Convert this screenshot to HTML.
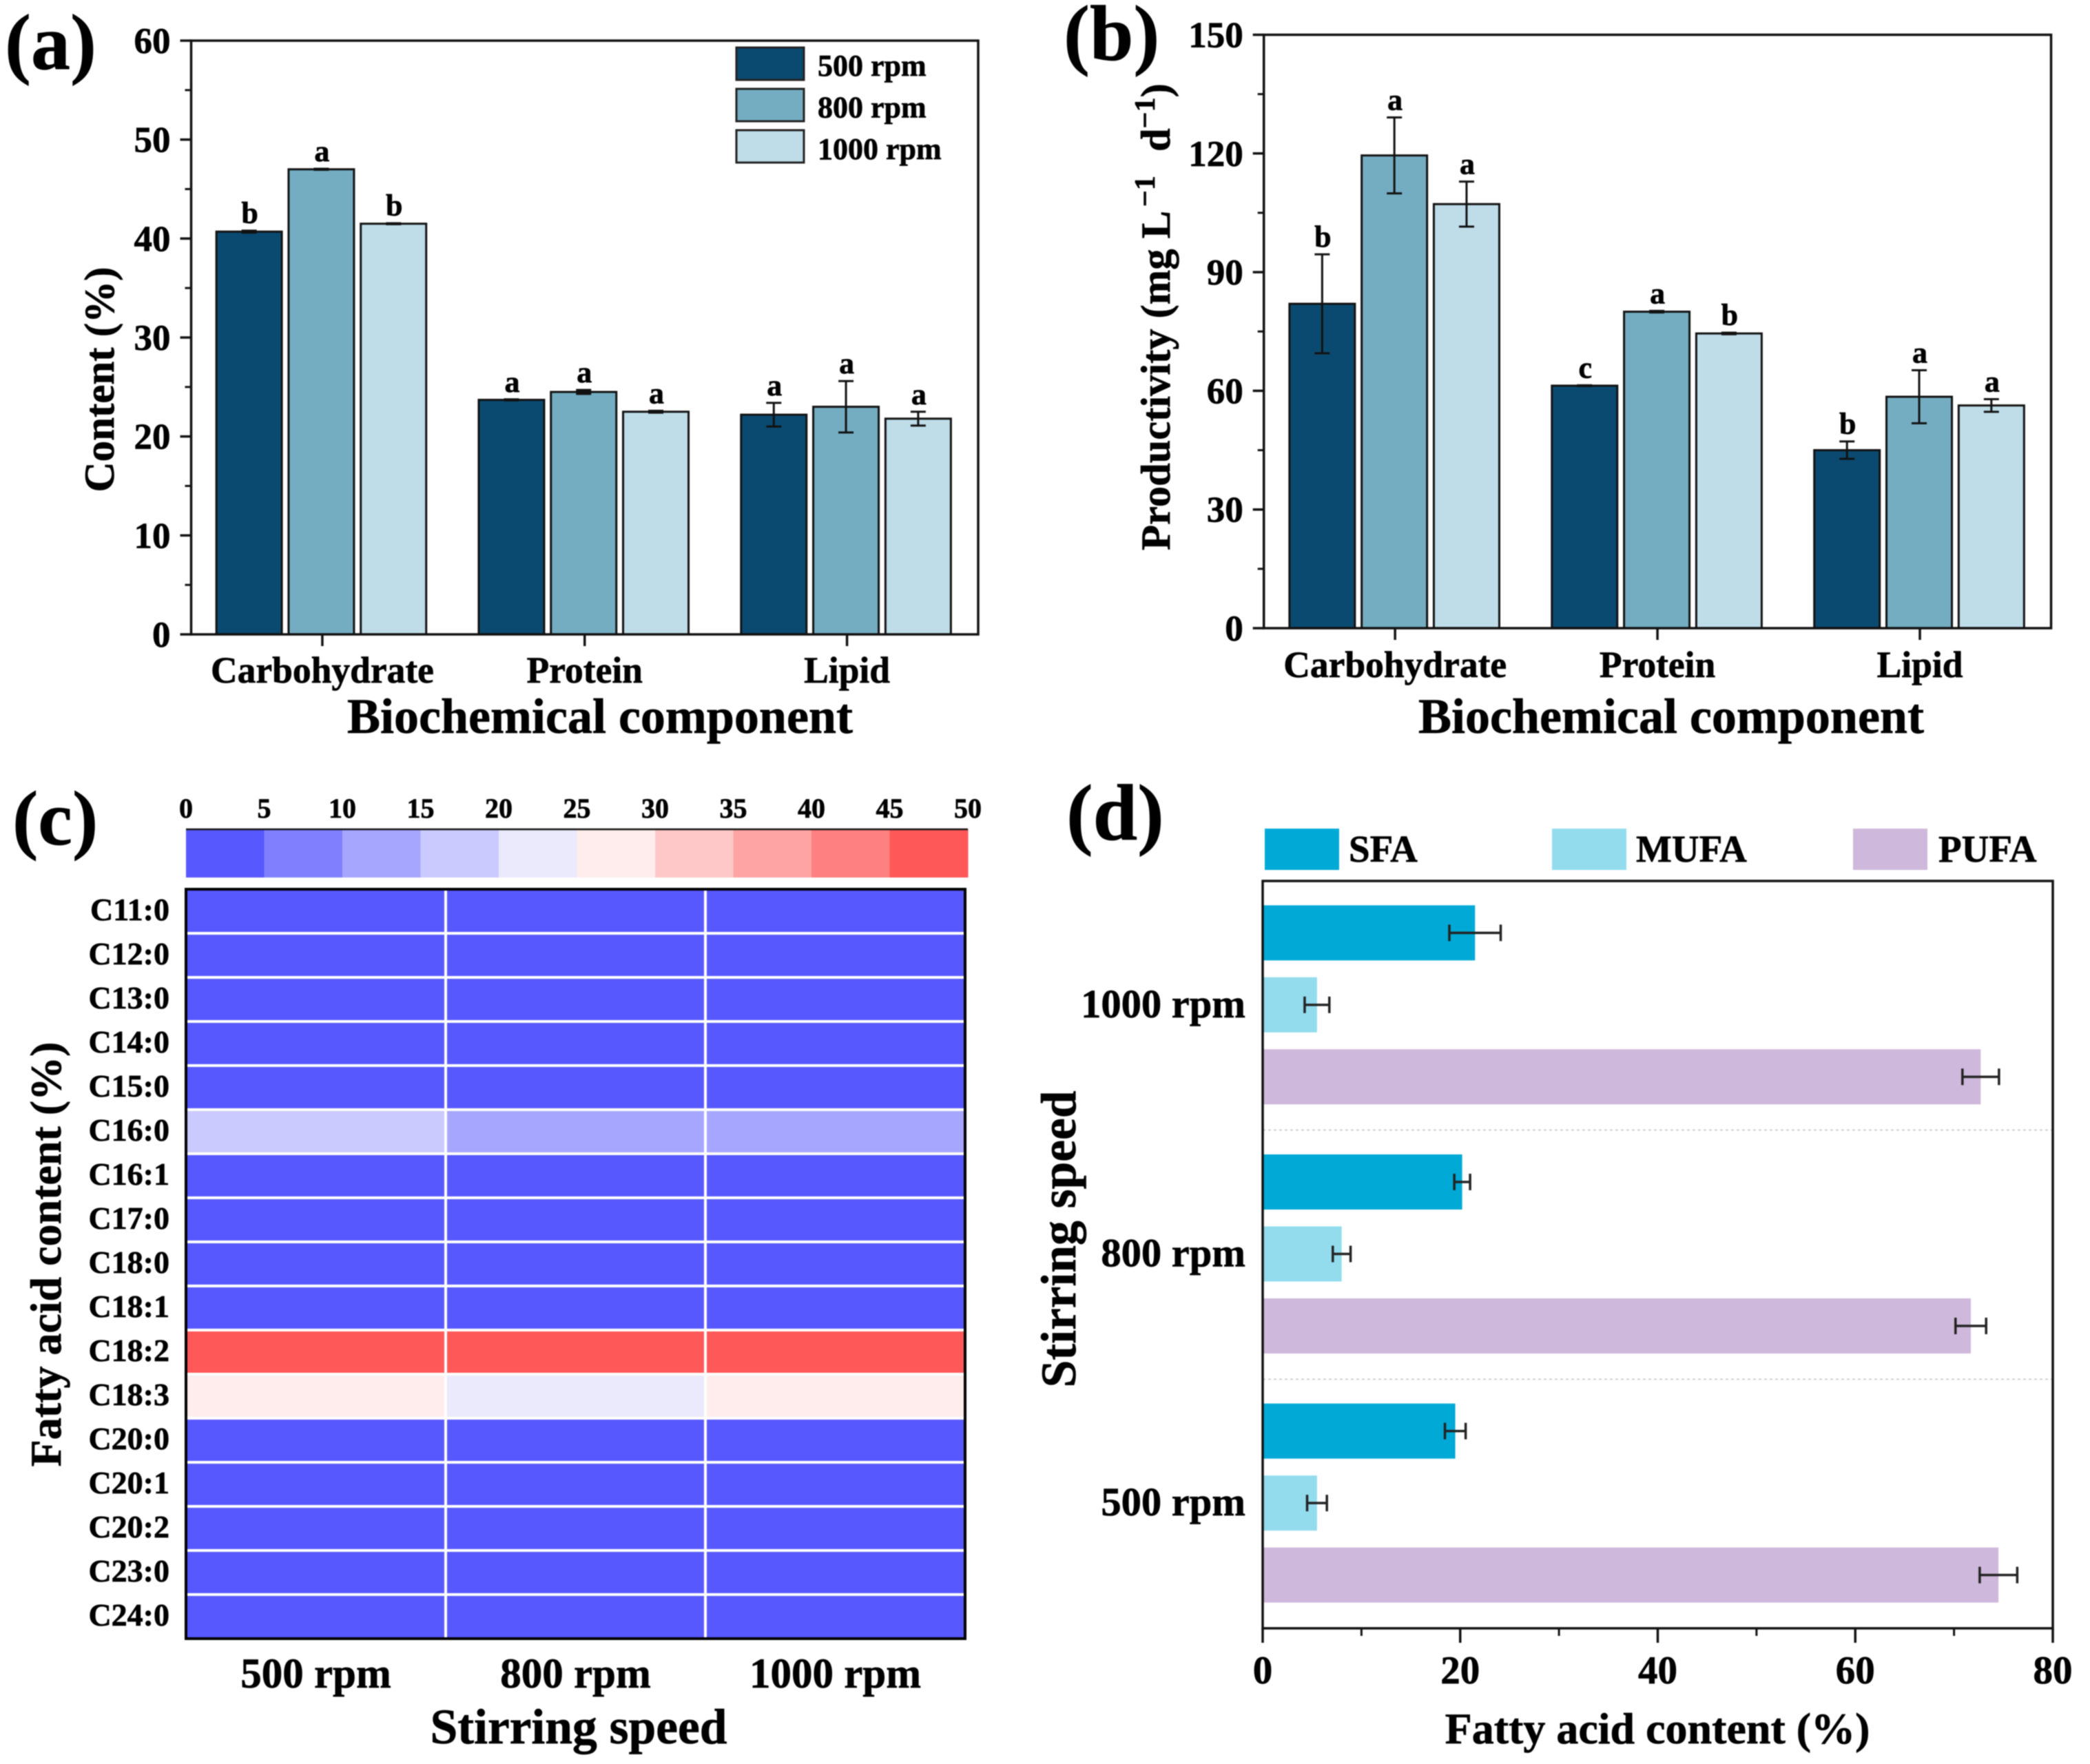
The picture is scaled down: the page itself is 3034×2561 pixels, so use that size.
<!DOCTYPE html>
<html lang="en">
<head>
<meta charset="utf-8">
<title>Biochemical component and fatty acid charts</title>
<style>
html,body{margin:0;padding:0;background:#fff;}
svg{display:block;font-family:"Liberation Serif",serif;font-weight:700;filter:blur(0.7px);}
text{fill:#000;stroke:#000;stroke-width:0.7px;}
</style>
</head>
<body>
<svg id="fig" xmlns="http://www.w3.org/2000/svg" width="3034" height="2561" viewBox="0 0 3034 2561">
  <rect x="0" y="0" width="3034" height="2561" fill="#fff"/>
  <g id="panel-a"></g>
  <g id="panel-b"></g>
  <g id="panel-c"></g>
  <g id="panel-d"></g>

  <text x="7" y="100" font-size="114">(a)</text>
  <text x="1544" y="87" font-size="114">(b)</text>
  <text x="18" y="1226" font-size="112">(c)</text>
  <text x="1548" y="1219" font-size="116">(d)</text>

  <text x="871" y="1064" font-size="72" text-anchor="middle">Biochemical component</text>
  <text transform="translate(165 551) rotate(-90)" font-size="61" text-anchor="middle">Content (%)</text>

  <text x="2426" y="1064" font-size="72" text-anchor="middle">Biochemical component</text>
  <text transform="translate(1698 799) rotate(-90)" font-size="60.5">Productivity (mg L<tspan font-size="42" dx="6" dy="-22">−1</tspan><tspan dx="20" dy="22"> d</tspan><tspan font-size="42" dy="-22">−1</tspan><tspan dy="22">)</tspan></text>

  <text x="840" y="2531" font-size="71.5" text-anchor="middle">Stirring speed</text>
  <text transform="translate(88 1821) rotate(-90)" font-size="64" text-anchor="middle">Fatty acid content (%)</text>

  <text x="2406" y="2531" font-size="64" text-anchor="middle">Fatty acid content (%)</text>
  <text transform="translate(1561 1799) rotate(-90)" font-size="71.5" text-anchor="middle">Stirring speed</text>
</svg>

<script>
// ---------- Shared series ----------
const speedLabels = ['500 rpm', '800 rpm', '1000 rpm'];
const componentCategories = ['Carbohydrate', 'Protein', 'Lipid'];

// ---------- Panel (a): Content (%) ----------
const contentValues500 = [40.7, 23.7, 22.2];
const contentValues800 = [47.0, 24.5, 23.0];
const contentValues1000 = [41.5, 22.5, 21.8];
const contentErrors500 = [0.1, 0.05, 1.2];
const contentErrors800 = [0.05, 0.2, 2.6];
const contentErrors1000 = [0.05, 0.1, 0.7];
const contentLetters500 = ['b', 'a', 'a'];
const contentLetters800 = ['a', 'a', 'a'];
const contentLetters1000 = ['b', 'a', 'a'];
const contentTicks = [0, 10, 20, 30, 40, 50, 60];
const contentMinorTicks = [5, 15, 25, 35, 45, 55];

// ---------- Panel (b): Productivity ----------
const prodValues500 = [82, 61.3, 45];
const prodValues800 = [119.5, 80, 58.5];
const prodValues1000 = [107.2, 74.5, 56.3];
const prodErrors500 = [12.5, 0.1, 2.2];
const prodErrors800 = [9.6, 0.2, 6.7];
const prodErrors1000 = [5.7, 0.2, 1.6];
const prodLetters500 = ['b', 'c', 'b'];
const prodLetters800 = ['a', 'a', 'a'];
const prodLetters1000 = ['a', 'b', 'a'];
const prodTicks = [0, 30, 60, 90, 120, 150];
const prodMinorTicks = [15, 45, 75, 105, 135];

// ---------- Panel (c): Heatmap ----------
const fattyAcids = ['C11:0','C12:0','C13:0','C14:0','C15:0','C16:0','C16:1','C17:0','C18:0','C18:1','C18:2','C18:3','C20:0','C20:1','C20:2','C23:0','C24:0'];
const heat500 = [0.3, 0.4, 0.2, 0.8, 0.5, 17.5, 1.5, 0.4, 1.2, 3.5, 47, 27, 0.3, 0.3, 0.4, 0.3, 0.2];
const heat800 = [0.3, 0.4, 0.2, 0.8, 0.5, 13.5, 1.5, 0.4, 1.2, 3.8, 47, 23, 0.3, 0.3, 0.4, 0.3, 0.2];
const heat1000 = [0.3, 0.4, 0.2, 0.8, 0.5, 13.5, 1.5, 0.4, 1.2, 3.5, 47, 27, 0.3, 0.3, 0.4, 0.3, 0.2];
const colorbarTicks = [0, 5, 10, 15, 20, 25, 30, 35, 40, 45, 50];
const colorbarPalette = ['#5858FF','#8080FF','#A6A6FF','#CACAFF','#EAEAFC','#FFEDED','#FFC8C8','#FFA4A4','#FF8080','#FF5858'];

// ---------- Panel (d): Fatty acid classes ----------
const classLabels = ['SFA', 'MUFA', 'PUFA'];
const speedLabelsTopDown = ['1000 rpm', '800 rpm', '500 rpm'];
const sfaValues = [21.5, 20.2, 19.5];
const mufaValues = [5.5, 8.0, 5.5];
const pufaValues = [72.7, 71.7, 74.5];
const sfaErrors = [2.6, 0.8, 1.05];
const mufaErrors = [1.25, 0.9, 1.0];
const pufaErrors = [1.85, 1.55, 1.9];
const fattyTicks = [0, 20, 40, 60, 80];
const fattyMinorTicks = [10, 30, 50, 70];

// ---------- Helpers ----------
const SVGNS = 'http://www.w3.org/2000/svg';
function node(parent, tag, props, name, text) {
  const el = document.createElementNS(SVGNS, tag);
  for (const k in props) el.setAttribute(k, props[k]);
  
  
  if (text !== undefined) el.textContent = text;
  parent.appendChild(el);
  return el;
}
const INK = '#111';
const barColors = ['#0B4A70', '#74ADC2', '#BFDDE9'];

function slug(s) { return String(s).toLowerCase().replace(/[^a-z0-9]+/g, '-'); }

function drawBarPanel(cfg) {
  const g = cfg.group;
  const y = v => cfg.bottom - (v / cfg.max) * (cfg.bottom - cfg.top);
  const band = (cfg.right - cfg.left) / cfg.categories.length;
  const x = i => cfg.left + band * (i + 0.5);

  // bars, error bars, letters
  cfg.values.forEach((series, s) => {
    series.forEach((val, i) => {
      const cx = x(i) + (s - 1) * 104.8 + cfg.shift;
      const id = slug(cfg.categories[i]) + '-' + slug(speedLabels[s]);
      node(g, 'rect', {x: cx - 47.5, y: y(val), width: 95, height: cfg.bottom - y(val), fill: barColors[s], stroke: INK, 'stroke-width': 3}, 'bar-' + id);
      const e = cfg.errors[s][i];
      node(g, 'line', {x1: cx, x2: cx, y1: y(val + e), y2: y(val - e), stroke: INK, 'stroke-width': 3}, 'error-bar-' + id);
      node(g, 'line', {x1: cx - 11, x2: cx + 11, y1: y(val + e), y2: y(val + e), stroke: INK, 'stroke-width': 3}, 'error-cap-top-' + id);
      node(g, 'line', {x1: cx - 11, x2: cx + 11, y1: y(val - e), y2: y(val - e), stroke: INK, 'stroke-width': 3}, 'error-cap-bottom-' + id);
      node(g, 'text', {x: cx + 1, y: y(val + e) - 11, 'font-size': 44, 'text-anchor': 'middle'}, 'significance-letter-' + id, cfg.letters[s][i]);
    });
  });

  // frame
  node(g, 'rect', {x: cfg.left, y: cfg.top, width: cfg.right - cfg.left, height: cfg.bottom - cfg.top, fill: 'none', stroke: INK, 'stroke-width': 3.5}, 'plot-frame');

  // y ticks
  cfg.ticks.forEach(t => {
    node(g, 'line', {x1: cfg.left - 16, x2: cfg.left, y1: y(t), y2: y(t), stroke: INK, 'stroke-width': 3.5}, 'y-tick-' + t);
    node(g, 'text', {x: cfg.left - 30, y: y(t) + 18, 'font-size': 53, 'text-anchor': 'end'}, 'y-tick-label-' + t, t);
  });
  cfg.minor.forEach(t => {
    node(g, 'line', {x1: cfg.left - 9, x2: cfg.left, y1: y(t), y2: y(t), stroke: INK, 'stroke-width': 3}, 'y-minor-tick-' + t);
  });

  // x ticks
  cfg.categories.forEach((c, i) => {
    node(g, 'line', {x1: x(i), x2: x(i), y1: cfg.bottom, y2: cfg.bottom + 17, stroke: INK, 'stroke-width': 3.5}, 'x-tick-' + slug(c));
    node(g, 'text', {x: x(i), y: cfg.catBaseline, 'font-size': 53.5, 'text-anchor': 'middle'}, 'x-tick-label-' + slug(c), c);
  });
}

// ---------- Panel (a) ----------
drawBarPanel({
  group: document.getElementById('panel-a'),
  left: 277.5, right: 1420, top: 59, bottom: 921, max: 60, catBaseline: 991, shift: -1.5,
  categories: componentCategories,
  values: [contentValues500, contentValues800, contentValues1000],
  errors: [contentErrors500, contentErrors800, contentErrors1000],
  letters: [contentLetters500, contentLetters800, contentLetters1000],
  ticks: contentTicks, minor: contentMinorTicks
});
(function legendA() {
  const g = document.getElementById('panel-a');
  speedLabels.forEach((label, i) => {
    node(g, 'rect', {x: 1069, y: 69 + i * 60, width: 98, height: 47, fill: barColors[i], stroke: '#222', 'stroke-width': 3}, 'legend-swatch-' + slug(label));
    node(g, 'text', {x: 1187, y: 110 + i * 60.5, 'font-size': 44}, 'legend-label-' + slug(label), label);
  });
})();

// ---------- Panel (b) ----------
drawBarPanel({
  group: document.getElementById('panel-b'),
  left: 1834.7, right: 2977.5, top: 50.5, bottom: 912, max: 150, catBaseline: 983, shift: -1,
  categories: componentCategories,
  values: [prodValues500, prodValues800, prodValues1000],
  errors: [prodErrors500, prodErrors800, prodErrors1000],
  letters: [prodLetters500, prodLetters800, prodLetters1000],
  ticks: prodTicks, minor: prodMinorTicks
});

// ---------- Panel (c) ----------
(function heatmap() {
  const g = document.getElementById('panel-c');
  const left = 270, right = 1401, barRight = 1405, top = 1291, bottom = 2379;
  const cbTop = 1204, cbBottom = 1274;
  const cbX = v => left + (v / 50) * (barRight - left);
  const binColor = v => colorbarPalette[Math.min(colorbarPalette.length - 1, Math.floor(v / 5))];

  colorbarPalette.forEach((color, i) => {
    const a = colorbarTicks[i], b = colorbarTicks[i + 1];
    node(g, 'rect', {x: cbX(a), y: cbTop, width: cbX(b) - cbX(a) + 0.5, height: cbBottom - cbTop, fill: color}, 'colorbar-segment-' + a + '-' + b);
  });
  node(g, 'line', {x1: left, x2: barRight, y1: cbTop, y2: cbTop, stroke: INK, 'stroke-width': 2.5}, 'colorbar-top-line');
  colorbarTicks.forEach(t => {
    node(g, 'text', {x: cbX(t), y: 1187, 'font-size': 40, 'text-anchor': 'middle'}, 'colorbar-tick-label-' + t, t);
  });

  const columns = [heat500, heat800, heat1000];
  const cw = (right - left) / columns.length;
  const rh = (bottom - top) / fattyAcids.length;
  columns.forEach((col, c) => {
    col.forEach((v, r) => {
      node(g, 'rect', {x: left + c * cw, y: top + r * rh, width: cw, height: rh, fill: binColor(v), stroke: '#fff', 'stroke-width': 4}, 'heat-cell-' + slug(fattyAcids[r]) + '-' + slug(speedLabels[c]));
    });
    node(g, 'text', {x: left + (c + 0.5) * cw, y: 2450, 'font-size': 61, 'text-anchor': 'middle'}, 'x-tick-label-' + slug(speedLabels[c]), speedLabels[c]);
  });
  fattyAcids.forEach((name, r) => {
    node(g, 'text', {x: 246, y: top + (r + 0.5) * rh + 13, 'font-size': 46, 'text-anchor': 'end'}, 'y-tick-label-' + slug(name), name);
  });
  node(g, 'rect', {x: left, y: top, width: right - left, height: bottom - top, fill: 'none', stroke: '#000', 'stroke-width': 4}, 'heatmap-frame');
})();

// ---------- Panel (d) ----------
(function hbars() {
  const g = document.getElementById('panel-d');
  const left = 1833, right = 2980, top = 1279, bottom = 2364, xmax = 80;
  const x = v => left + (v / xmax) * (right - left);
  const band = (bottom - top) / speedLabelsTopDown.length;
  const groupY = i => top + band * (i + 0.5);
  const classColors = ['#00A9D6', '#92DCEE', '#CEB8DB'];
  const series = [sfaValues, mufaValues, pufaValues];
  const errors = [sfaErrors, mufaErrors, pufaErrors];

  series.forEach((vals, s) => {
    vals.forEach((v, i) => {
      const cy = groupY(i) + (s - 1) * 104.5 - 1;
      const id = slug(speedLabelsTopDown[i]) + '-' + slug(classLabels[s]);
      node(g, 'rect', {x: left, y: cy - 40, width: x(v) - left, height: 80, fill: classColors[s]}, 'bar-' + id);
      const e = errors[s][i];
      node(g, 'line', {x1: x(v - e), x2: x(v + e), y1: cy, y2: cy, stroke: '#222', 'stroke-width': 3.5}, 'error-bar-' + id);
      node(g, 'line', {x1: x(v - e), x2: x(v - e), y1: cy - 12, y2: cy + 12, stroke: '#222', 'stroke-width': 3.5}, 'error-cap-low-' + id);
      node(g, 'line', {x1: x(v + e), x2: x(v + e), y1: cy - 12, y2: cy + 12, stroke: '#222', 'stroke-width': 3.5}, 'error-cap-high-' + id);
    });
  });

  speedLabelsTopDown.forEach((label, i) => {
    node(g, 'text', {x: 1808, y: groupY(i) + 17, 'font-size': 58.5, 'text-anchor': 'end'}, 'y-tick-label-' + slug(label), label);
    if (i > 0) {
      node(g, 'line', {x1: left, x2: right, y1: top + band * i, y2: top + band * i, stroke: '#cfcfcf', 'stroke-width': 2, 'stroke-dasharray': '4 4'}, 'group-separator-' + i);
    }
  });

  node(g, 'rect', {x: left, y: top, width: right - left, height: bottom - top, fill: 'none', stroke: INK, 'stroke-width': 3.5}, 'plot-frame-d');

  fattyTicks.forEach(t => {
    node(g, 'line', {x1: x(t), x2: x(t), y1: bottom, y2: bottom + 21, stroke: INK, 'stroke-width': 3.5}, 'x-tick-' + t);
    node(g, 'text', {x: x(t), y: 2444, 'font-size': 57, 'text-anchor': 'middle'}, 'x-tick-label-' + t, t);
  });
  fattyMinorTicks.forEach(t => {
    node(g, 'line', {x1: x(t), x2: x(t), y1: bottom, y2: bottom + 11, stroke: INK, 'stroke-width': 3}, 'x-minor-tick-' + t);
  });

  const legendStart = 1836;
  const firstGap = 417;
  const secondGap = 437;
  classLabels.forEach((label, i) => {
    const lx = legendStart + (i > 0 ? firstGap : 0) + (i > 1 ? secondGap : 0);
    node(g, 'rect', {x: lx, y: 1203, width: 108, height: 60, fill: classColors[i]}, 'legend-swatch-' + slug(label));
    node(g, 'text', {x: lx + 122 + (i === 2 ? 2 : 0), y: 1251, 'font-size': 55}, 'legend-label-' + slug(label), label);
  });
})();
</script>
</body>
</html>
